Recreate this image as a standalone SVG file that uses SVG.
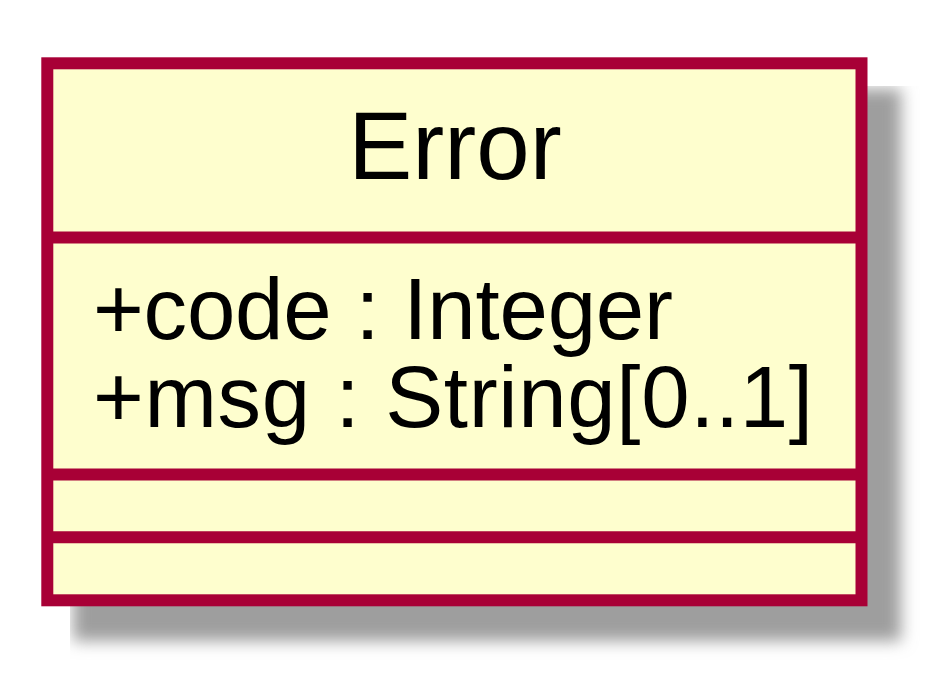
<svg xmlns="http://www.w3.org/2000/svg" width="948" height="687" viewBox="0 0 948 687">
  <defs>
    <filter id="blur" x="-20%" y="-20%" width="140%" height="140%">
      <feGaussianBlur stdDeviation="8"/>
    </filter>
    <clipPath id="shadowClip">
      <rect x="70" y="86" width="878" height="601"/>
    </clipPath>
  </defs>
  <style>
    .box { fill: #FEFECE; stroke: #A80036; stroke-width: 12; }
    .sep { stroke: #A80036; stroke-width: 12; }
    .name { font-family: "Liberation Sans", Arial, sans-serif; font-size: 96px; fill: #000000; }
    .attr { font-family: "Liberation Sans", Arial, sans-serif; font-size: 87px; fill: #000000; }
  </style>
  <g id="Error">
    <g clip-path="url(#shadowClip)">
      <rect x="73" y="89" width="828" height="552" fill="#9E9E9E" filter="url(#blur)"/>
    </g>
    <rect class="box" x="47.3" y="63.3" width="814.2" height="537"/>
    <line class="sep" x1="47.3" y1="237.5" x2="861.5" y2="237.5"/>
    <line class="sep" x1="47.3" y1="474.5" x2="861.5" y2="474.5"/>
    <line class="sep" x1="47.3" y1="537.3" x2="861.5" y2="537.3"/>
    <text class="name" x="455" y="179" text-anchor="middle">Error</text>
    <text class="attr" x="93" y="339" textLength="580" lengthAdjust="spacing">+code : Integer</text>
    <text class="attr" x="93" y="427" textLength="720" lengthAdjust="spacing">+msg : String[0..1]</text>
  </g>
  <g id="connectors"/>
</svg>
